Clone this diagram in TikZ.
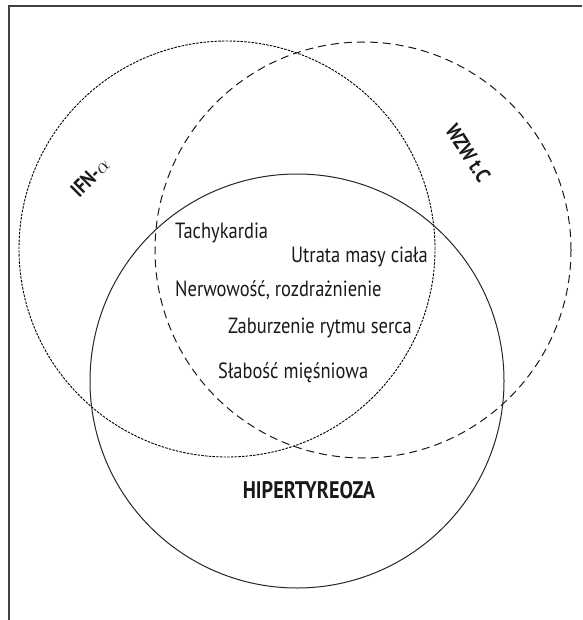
\documentclass[tikz,border=0pt]{standalone}
\usepackage{fontspec}
\newfontfamily\condfont[FakeStretch=0.84]{PT Sans}
\usetikzlibrary{positioning}

\begin{document}
\begin{tikzpicture}[x=1pt,y=-1pt,
    set/.style={circle,inner sep=0pt,minimum size=#1},
    objaw/.style={text=black!90,font=\condfont\fontsize{22}{24}\selectfont,inner sep=0pt},
    zbior/.style={text=black!90,font=\condfont\bfseries\fontsize{21}{24}\selectfont,inner sep=0pt}]
  \useasboundingbox (0,0) rectangle (582,620);
  % ramka (przycieta)
  \draw[black!75,line width=1.5pt] (9,620) -- (9,6) -- (582,6);
  % zbiory
  \node[set=416pt,draw=black,line width=0.9pt,dash pattern=on 2.5pt off 1.2pt] (ifn) at (227,249) {};
  \node[set=416pt,draw=black!90,line width=1pt,dash pattern=on 8pt off 5pt] (wzw) at (363,250) {};
  \node[set=414pt,draw=black!85,line width=1pt] (hiper) at (297,381) {};
  % nazwy zbiorow
  \node[zbior,rotate=45] (ifnlab) at (90,177) {IFN-$\alpha$};
  \node[zbior,rotate=-57] (wzwlab) at (468,153) {WZW t.C};
  \node[zbior,font=\condfont\bfseries\fontsize{24}{26}\selectfont] (hiperlab) at (309,490) {HIPERTYREOZA};
  % objawy wspolne
  \node[objaw,anchor=west] (tach) at (175,233) {Tachykardia};
  \node[objaw,anchor=east] (masa) at (428,257) {Utrata masy ciała};
  \node[objaw,anchor=west] (nerw) at (175,290) {Nerwowość, rozdrażnienie};
  \node[objaw,anchor=east] (rytm) at (412,328) {Zaburzenie rytmu serca};
  \node[objaw,anchor=west] (slab) at (218,373) {Słabość mięśniowa};
\end{tikzpicture}
\end{document}
